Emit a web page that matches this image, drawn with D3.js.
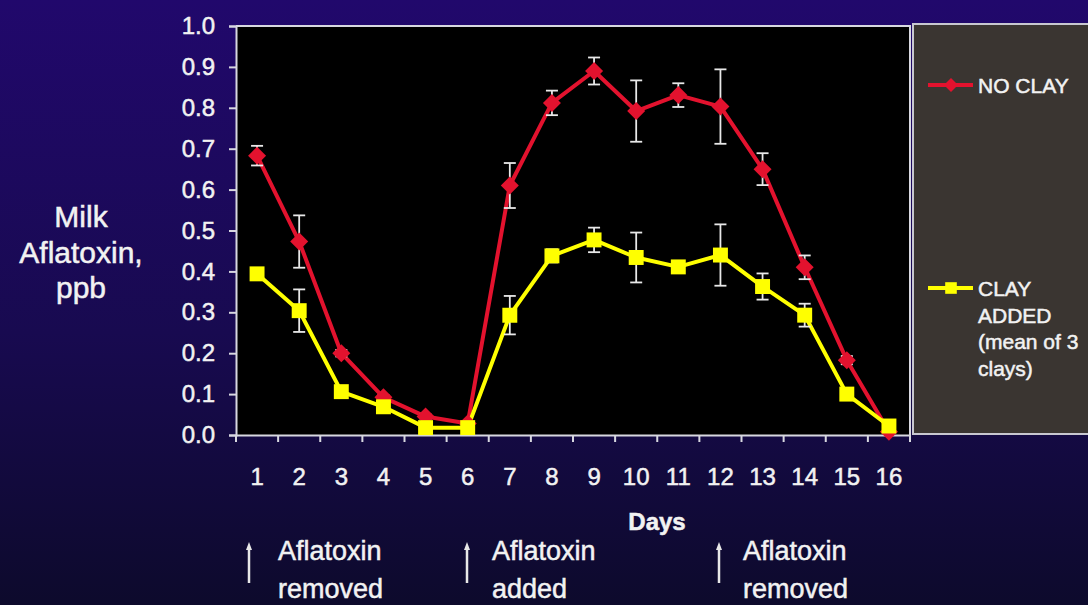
<!DOCTYPE html>
<html><head><meta charset="utf-8">
<script src="https://cdn.jsdelivr.net/npm/d3@7"></script>
<style>
html,body{margin:0;padding:0;background:#150a4a;}
svg{display:block;}
text{font-family:"Liberation Sans",Arial,sans-serif;fill:#f2f2f2;stroke:#f2f2f2;stroke-width:0.5px;}
</style></head>
<body>
<svg id="chart" width="1088" height="605"></svg>
<script>
// ---- data ----
const days = ["1","2","3","4","5","6","7","8","9","10","11","12","13","14","15","16"];
const noClay = [0.683,0.473,0.20,0.092,0.045,0.028,0.61,0.812,0.89,0.792,0.831,0.803,0.650,0.41,0.183,0.008];
const noClayErr = [0.024,0.064,0.008,0.005,0.005,0.004,0.055,0.03,0.033,0.075,0.029,0.091,0.039,0.029,0.01,0.004];
const clayAdded = [0.394,0.304,0.106,0.069,0.018,0.018,0.293,0.438,0.477,0.434,0.411,0.44,0.363,0.293,0.100,0.022];
const clayErr = [0.012,0.052,0.01,0.01,0.004,0.004,0.047,0.016,0.03,0.061,0.012,0.075,0.032,0.028,0.008,0.006];
const yTicks = [0,0.1,0.2,0.3,0.4,0.5,0.6,0.7,0.8,0.9,1.0];
const seriesNames = [["NO CLAY"],["CLAY","ADDED","(mean of 3","clays)"]];
const notes = [{day:"1", lines:["Aflatoxin","removed"]},{day:"6", lines:["Aflatoxin","added"]},{day:"12", lines:["Aflatoxin","removed"]}];

(function(){
const svg = d3.select("#chart");
const W = 1088, H = 605;

// background gradient
const defs = svg.append("defs");
const g0 = defs.append("linearGradient").attr("id","bg").attr("x1",0).attr("y1",0).attr("x2",0).attr("y2",1);
g0.append("stop").attr("offset","0%").attr("stop-color","#21086c");
g0.append("stop").attr("offset","55%").attr("stop-color","#180a50");
g0.append("stop").attr("offset","100%").attr("stop-color","#0d0a2c");
svg.append("rect").attr("width",W).attr("height",H).attr("fill","url(#bg)");

const pL = 236, pR = 910, pT = 26, pB = 435;
const x = d3.scaleBand().domain(days).range([pL,pR]).paddingInner(0).paddingOuter(0);
const y = d3.scaleLinear().domain([0,1]).range([pB,pT]);
const cx = d => x(d) + x.bandwidth()/2;

// legend box
svg.append("rect").attr("x",913).attr("y",24).attr("width",190).attr("height",410)
  .attr("fill","#3a3531").attr("stroke","#c8c8d0").attr("stroke-width",2);

// plot area
svg.append("rect").attr("x",pL).attr("y",pT).attr("width",pR-pL).attr("height",pB-pT).attr("fill","#000");
svg.append("path").attr("d",`M${pL},${pT}H${pR}V${pB}`).attr("fill","none").attr("stroke","#d8d8e0").attr("stroke-width",2);

// y axis
const ya = svg.append("g").attr("transform",`translate(${pL},0)`)
  .call(d3.axisLeft(y).tickValues(yTicks).tickFormat(d3.format(".1f")).tickSize(7).tickPadding(14));
ya.select(".domain").attr("stroke","#d8d8e0").attr("stroke-width",2);
ya.selectAll(".tick line").attr("stroke","#d8d8e0").attr("stroke-width",2);
ya.selectAll(".tick text").attr("font-size",24).attr("fill","#f2f2f2").attr("font-family","Liberation Sans, Arial, sans-serif");

// x axis
const xa = svg.append("g").attr("transform",`translate(0,${pB})`)
  .call(d3.axisBottom(x).tickSize(0).tickPadding(43));
xa.select(".domain").attr("stroke","#d8d8e0").attr("stroke-width",2);
xa.selectAll(".tick text").attr("font-size",24).attr("fill","#f2f2f2").attr("font-family","Liberation Sans, Arial, sans-serif").attr("dy","0.3em");
const bounds = days.map(d => x(d)).concat([x(days[days.length-1]) + x.bandwidth()]);
xa.selectAll("line.bt").data(bounds).enter().append("line").attr("class","bt")
  .attr("x1",d=>d).attr("x2",d=>d).attr("y1",0).attr("y2",7).attr("stroke","#d8d8e0").attr("stroke-width",2);

// axis titles
const yt = svg.append("text").attr("text-anchor","middle").attr("font-size",30);
[["Milk",227],["Aflatoxin,",263],["ppb",298]].forEach(([t,b]) => yt.append("tspan").attr("x",81).attr("y",b).text(t));
svg.append("text").attr("x",657).attr("y",530).attr("text-anchor","middle").attr("font-size",24).attr("font-weight","bold").text("Days");

// series
const series = [
  {vals:noClay, err:noClayErr, color:"#e3122e", shape:"diamond"},
  {vals:clayAdded, err:clayErr, color:"#ffff00", shape:"square"}
];
const line = d3.line().x((v,i)=>cx(days[i])).y(v=>y(v));
const markerPath = (shape, px, py, r) => shape === "diamond"
  ? `M${px},${py-r}L${px+r},${py}L${px},${py+r}L${px-r},${py}Z`
  : `M${px-r*0.83},${py-r*0.83}h${r*1.66}v${r*1.66}h${-r*1.66}Z`;

series.forEach(s => {
  svg.append("path").datum(s.vals).attr("d",line).attr("fill","none").attr("stroke",s.color).attr("stroke-width",4).attr("stroke-linejoin","round");
});
series.forEach(s => {
  const eg = svg.append("g").attr("stroke","#e8e8e8").attr("stroke-width",1.8);
  s.vals.forEach((v,i) => {
    const px = cx(days[i]), y1 = y(v + s.err[i]), y2 = y(v - s.err[i]);
    eg.append("line").attr("x1",px).attr("x2",px).attr("y1",y1).attr("y2",y2);
    eg.append("line").attr("x1",px-6).attr("x2",px+6).attr("y1",y1).attr("y2",y1);
    eg.append("line").attr("x1",px-6).attr("x2",px+6).attr("y1",y2).attr("y2",y2);
  });
});
series.forEach(s => {
  svg.append("g").selectAll("path").data(s.vals).enter().append("path")
    .attr("d",(v,i)=>markerPath(s.shape, cx(days[i]), y(v), 9)).attr("fill",s.color);
});

// legend
const legY = [85, 288];
series.forEach((s,k) => {
  svg.append("line").attr("x1",928).attr("x2",973).attr("y1",legY[k]).attr("y2",legY[k]).attr("stroke",s.color).attr("stroke-width",4);
  svg.append("path").attr("d",markerPath(s.shape,951,legY[k],7)).attr("fill",s.color);
  const t = svg.append("text").attr("font-size",21);
  seriesNames[k].forEach((ln,j) => t.append("tspan").attr("x",978).attr("y",legY[k]+8+j*26.5).text(ln));
});

// annotations
const noteX = {"1":[249,278], "6":[467,492], "12":[719,743]};
notes.forEach(n => {
  const [ax, tx] = noteX[n.day];
  svg.append("line").attr("x1",ax).attr("x2",ax).attr("y1",548).attr("y2",583).attr("stroke","#e8e8e8").attr("stroke-width",2.5);
  svg.append("path").attr("d",`M${ax-3},${550}L${ax},${542}L${ax+3},${550}Z`).attr("fill","#e8e8e8");
  const t = svg.append("text").attr("font-size",27);
  n.lines.forEach((ln,j) => t.append("tspan").attr("x",tx).attr("y",560+j*38).text(ln));
});
})();
</script>
</body></html>
